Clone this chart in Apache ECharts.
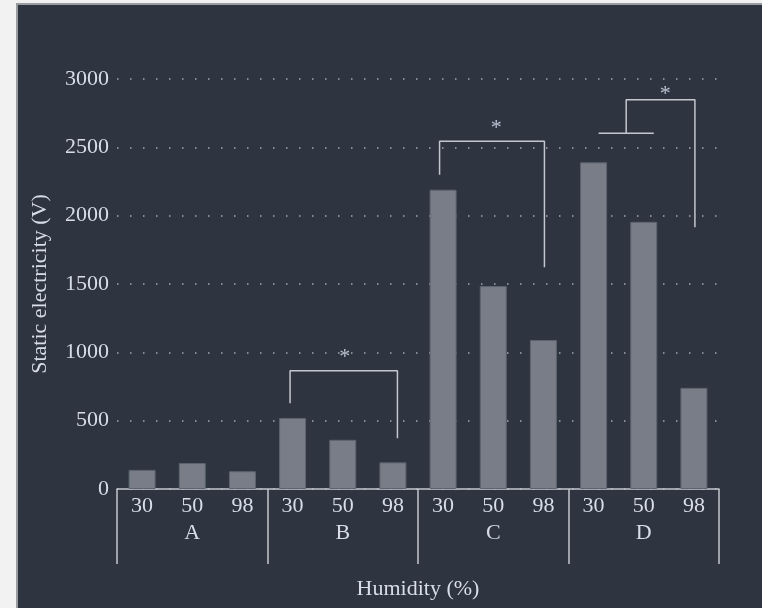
<!DOCTYPE html>
<html>
<head>
<meta charset="utf-8">
<script src="https://cdn.jsdelivr.net/npm/echarts@6/dist/echarts.min.js"></script>
<style>
  html, body { margin: 0; padding: 0; background: #f2f2f2; }
  .panel {
    position: absolute; left: 16px; top: 3px; width: 746px; height: 605px;
    background: #2e3440; border-left: 2px solid #9a9ca0; border-top: 2px solid #9a9ca0;
    box-sizing: border-box;
  }
  #chart { position: absolute; left: 0; top: 0; width: 762px; height: 608px; }
</style>
</head>
<body>
<div class="panel"></div>
<div id="chart"></div>
<script>
// humidity levels per group
const humidity = ['30', '50', '98', '30', '50', '98', '30', '50', '98', '30', '50', '98'];
const groups = ['A', 'B', 'C', 'D'];
// static electricity (V)
const staticV = [140, 190, 130, 520, 360, 195, 2190, 1485, 1090, 2390, 1955, 740];
const yTicks = [0, 3000, 500];

// significance brackets, [category position, V]
const bracketB = [[3.45, 627], [3.45, 866], [5.59, 866], [5.59, 371]];
const bracketC = [[6.43, 2299], [6.43, 2545], [8.52, 2545], [8.52, 1623]];
const bracketDBase = [[9.60, 2603], [10.70, 2603]];
const bracketD = [[10.15, 2603], [10.15, 2848], [11.52, 2848], [11.52, 1916]];
const stars = [[4.54, 998], [7.56, 2677], [10.93, 2926]];

const txt = '#d8dee9';
const lineCol = '#c3c7ce';
const font = '"Liberation Serif", "DejaVu Serif", serif';

let myChart = echarts.init(document.getElementById('chart'));

function bracket(data) {
  return {
    type: 'line',
    xAxisIndex: 2,
    data: data,
    symbol: 'none',
    silent: true,
    lineStyle: { color: lineCol, width: 1.5 },
    z: 5
  };
}

let option = {
  backgroundColor: 'transparent',
  textStyle: { fontFamily: font },
  animation: false,
  grid: { left: 117, right: 43, top: 79, bottom: 119 },
  xAxis: [
    {
      type: 'category',
      position: 'bottom',
      data: humidity,
      axisLine: { show: true, lineStyle: { color: lineCol, width: 1.5 } },
      axisTick: { show: false },
      axisLabel: { interval: 0, color: txt, fontSize: 22, fontFamily: font, margin: 6 },
      name: 'Humidity (%)',
      nameLocation: 'middle',
      nameGap: 89,
      nameTextStyle: { color: txt, fontSize: 22, fontFamily: font }
    },
    {
      // group brackets under the humidity labels
      type: 'category',
      position: 'bottom',
      data: groups,
      axisLine: { show: false },
      axisTick: { show: true, length: 75, interval: 0, lineStyle: { color: lineCol, width: 1.5 } },
      axisLabel: { interval: 0, color: txt, fontSize: 22, fontFamily: font, margin: 33 }
    },
    {
      type: 'value',
      min: 0,
      max: 12,
      show: false
    }
  ],
  yAxis: {
    type: 'value',
    min: yTicks[0],
    max: yTicks[1],
    interval: yTicks[2],
    axisLine: { show: false },
    axisTick: { show: false },
    axisLabel: { color: txt, fontSize: 22, fontFamily: font, margin: 8, formatter: (v) => String(v) },
    splitLine: { lineStyle: { color: '#a3a9b3', type: [1.5, 11.5], width: 1.5 } },
    name: 'Static electricity (V)',
    nameLocation: 'middle',
    nameGap: 66,
    nameTextStyle: { color: txt, fontSize: 22, fontFamily: font }
  },
  series: [
    {
      name: 'Static electricity',
      type: 'bar',
      xAxisIndex: 0,
      data: staticV,
      barWidth: 27,
      itemStyle: { color: '#787d88', borderColor: '#5e646f', borderWidth: 1 }
    },
    bracket(bracketB),
    bracket(bracketC),
    bracket(bracketDBase),
    bracket(bracketD),
    {
      type: 'scatter',
      xAxisIndex: 2,
      data: stars,
      symbolSize: 0,
      silent: true,
      label: {
        show: true,
        formatter: '*',
        position: 'inside',
        color: '#dbe4f4',
        fontSize: 22,
        fontFamily: font,
        offset: [0, 5]
      },
      z: 6
    }
  ]
};
myChart.setOption(option);
</script>
</body>
</html>
